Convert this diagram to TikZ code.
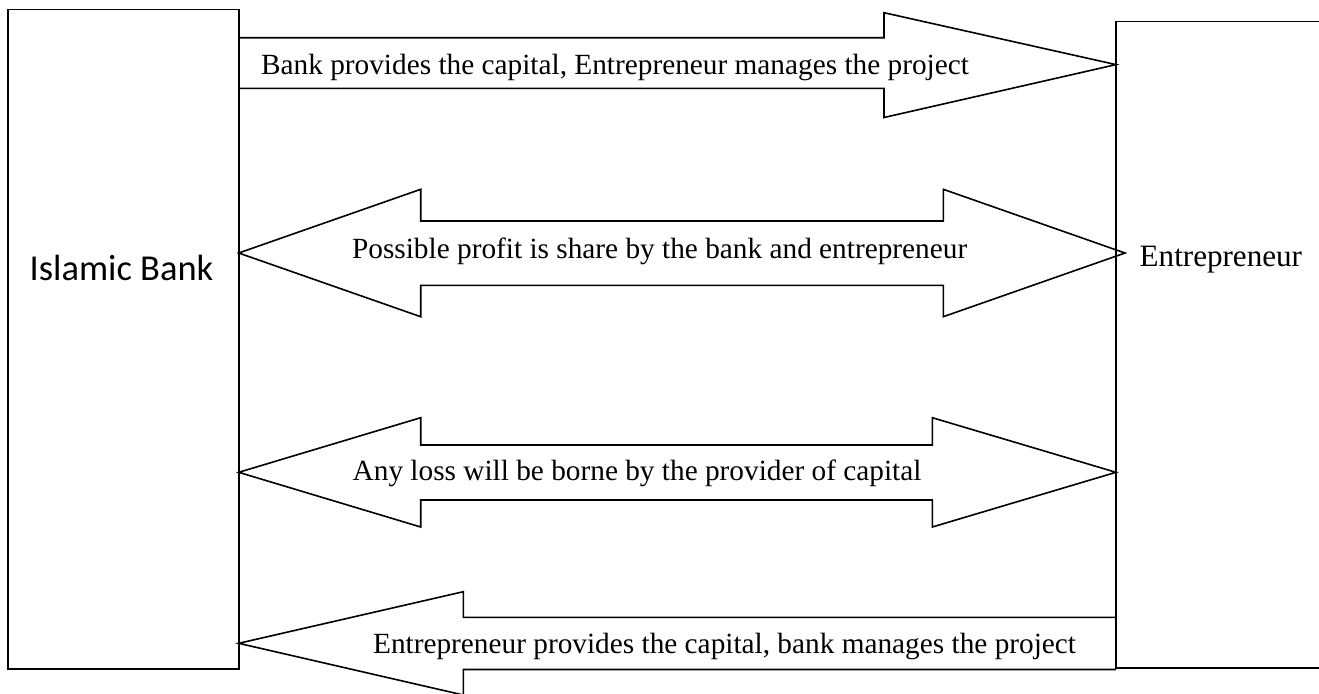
\documentclass[tikz,border=0pt]{standalone}
\usepackage{fontspec}
\setmainfont{Liberation Serif}
\newfontfamily\calibri{Carlito}
\usepackage{tikz}

\begin{document}
\begin{tikzpicture}[x=0.5pt,y=-0.5pt,
    box/.style={draw,line width=0.8pt,inner sep=0pt,outer sep=0pt,anchor=north west},
    blockarrow/.style={draw,line width=0.8pt,line join=miter},
    lbl/.style={anchor=base west,inner sep=0pt,font=\fontsize{14.65}{17}\selectfont}]
             \useasboundingbox (0,0) rectangle (1319,693);
             \clip (0,0) rectangle (1319,693);

             \node[box,minimum width=115.35pt,minimum height=329.85pt] (bank) at (8,9.3) {};
             \node[box,minimum width=107pt,minimum height=323.25pt] (entre) at (1116,21.5) {};

             \node[anchor=base west,inner sep=0pt,font=\calibri\fontsize{18.25}{22}\selectfont] (banklbl) at (29.3,280.7) {Islamic Bank};
             \node[anchor=base west,inner sep=0pt,font=\fontsize{15.55}{18}\selectfont] (entrelbl) at (1139.3,266.7) {Entrepreneur};

             \draw[blockarrow] (bank.east |- 0,37.7) -- (884,37.7) -- (884,12.7) -- (entre.west |- 0,64.6)
                 -- (884,117.5) -- (884,88.3) -- (bank.east |- 0,88.3);
             \draw[blockarrow] (bank.east |- 0,253) -- (420.7,189.3) -- (420.7,221) -- (943.3,221) -- (943.3,189.3)
                 -- (1125,253) -- (943.3,316.7) -- (943.3,285.3) -- (420.7,285.3) -- (420.7,316.7) -- cycle;
             \draw[blockarrow] (bank.east |- 0,472.3) -- (420.7,417.7) -- (420.7,445) -- (932.3,445) -- (932.3,417.7)
                 -- (entre.west |- 0,472.3) -- (932.3,527) -- (932.3,500) -- (420.7,500) -- (420.7,527) -- cycle;
             \draw[blockarrow] (entre.west |- 0,617.3) -- (463.3,617.3) -- (463.3,591.7) -- (bank.east |- 0,643.3)
                 -- (463.3,695) -- (463.3,669.5) -- (entre.west |- 0,669.5);

             \node[lbl] (capital) at (260.7,74) {Bank provides the capital, Entrepreneur manages the project};
             \node[lbl] (profit) at (351.7,258.3) {Possible profit is share by the bank and entrepreneur};
             \node[lbl] (loss) at (352.3,480.7) {Any loss will be borne by the provider of capital};
             \node[lbl] (manage) at (372.7,653.3) {Entrepreneur provides the capital, bank manages the project};
         \end{tikzpicture}
\end{document}
